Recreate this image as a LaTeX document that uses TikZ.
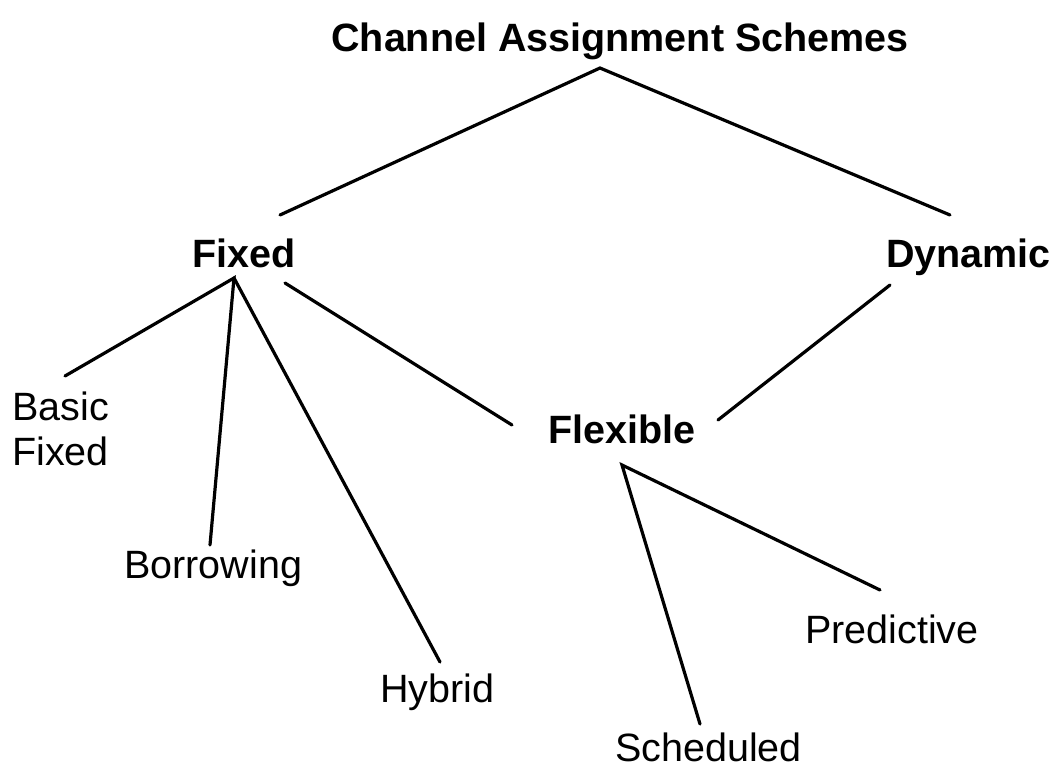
\documentclass[tikz,border=0pt]{standalone}
\usepackage{fontspec}
\setmainfont{Liberation Sans}
\begin{document}
\begin{tikzpicture}[x=1pt,y=-1pt,
  lbl/.style={inner sep=0pt,font=\fontsize{39.5}{45}\selectfont},
  hd/.style={inner sep=0pt,font=\fontsize{39.5}{45}\selectfont\bfseries},
  edge/.style={line width=3.2pt,line cap=round}]
\useasboundingbox (0,0) rectangle (1055,769);
% nodes
\node[hd,anchor=base] (title) at (620,51) {Channel Assignment Schemes};
\node[hd,anchor=base west] (fixed) at (192,267) {Fixed};
\node[hd,anchor=base west] (dynamic) at (886,267) {Dynamic};
\node[hd,anchor=base west] (flexible) at (548,443) {Flexible};
\node[lbl,anchor=base west,align=left] (basic) at (12,465) {Basic\\Fixed};
\node[lbl,anchor=base west] (borrowing) at (124,578) {Borrowing};
\node[lbl,anchor=base west] (hybrid) at (380,702) {Hybrid};
\node[lbl,anchor=base west] (predictive) at (805,643) {Predictive};
\node[lbl,anchor=base west] (scheduled) at (615,761) {Scheduled};
% connector end points
\coordinate (tA) at (600,68);
\coordinate (fxL) at (280,215);
\coordinate (dyL) at (950,215);
\coordinate (fxA) at (234,278);
\coordinate (fxR) at (285,283);
\coordinate (bfE) at (65,376);
\coordinate (boE) at (210,545);
\coordinate (hyE) at (440,662);
\coordinate (flL) at (512,425);
\coordinate (flR) at (718,420);
\coordinate (dyB) at (890,285);
\coordinate (flA) at (622,465);
\coordinate (scE) at (700,724);
\coordinate (prE) at (880,590);
% connectors
\draw[edge] (fxL) -- (tA) -- (dyL);
\draw[edge] (bfE) -- (fxA) -- (boE);
\draw[edge] (fxA) -- (hyE);
\draw[edge] (fxR) -- (flL);
\draw[edge] (dyB) -- (flR);
\draw[edge] (scE) -- (flA) -- (prE);
\end{tikzpicture}
\end{document}
